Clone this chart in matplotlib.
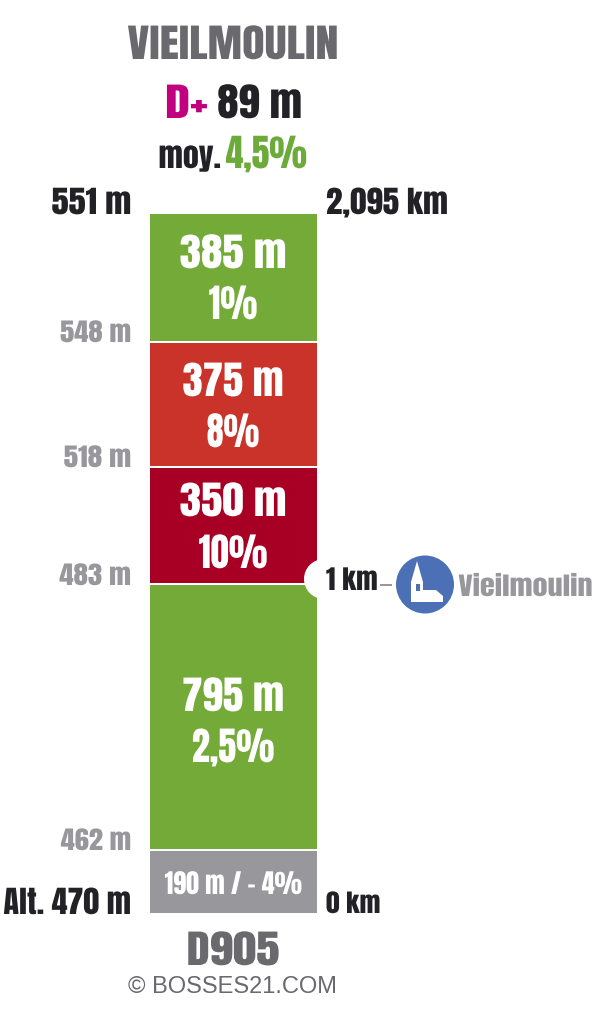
import matplotlib
matplotlib.use("Agg")
import matplotlib.pyplot as plt
import matplotlib.patheffects as pe
from matplotlib.patches import Circle, Polygon, Rectangle
from matplotlib.transforms import Affine2D

# Data, from the foot of the climb to the top
segment_lengths = [190, 795, 350, 375, 385]
segment_labels = ["190 m / - 4%", "795 m\n2,5%", "350 m\n10%", "375 m\n8%", "385 m\n1%"]
segment_colors = ["#98979c", "#74aa38", "#a80024", "#c93329", "#74aa38"]
altitude_labels = ["548 m", "518 m", "483 m", "462 m"]
total_km = "2,095 km"
start_km = "0 km"
top_alt = "551 m"
start_alt = "Alt. 470 m"
poi_km = "1 km"
poi_name = "Vieilmoulin"
title = "VIEILMOULIN"
road = "D905"
credit = "© BOSSES21.COM"

W, H = 600, 1024
DARK, GREY, MID = "#212126", "#98979c", "#69696e"
FONT = ["Anton", "Oswald", "Liberation Sans", "DejaVu Sans"]

fig = plt.figure(figsize=(W / 100, H / 100), dpi=100, facecolor="white")

# Stacked column in metres
bar_ax = fig.add_axes([149 / W, 1 - 913.5 / H, 169 / W, 700.5 / H])
bar_ax.set_xlim(0, 1)
bar_ax.set_ylim(0, sum(segment_lengths))
bar_ax.axis("off")
bottom = 0
for length, color in zip(segment_lengths, segment_colors):
    bar_ax.bar(0.5, length, width=1, bottom=bottom, color=color,
               edgecolor="white", linewidth=1.44, clip_on=False)
    bottom += length

# Pixel overlay for labels and the icon
ov = fig.add_axes([0, 0, 1, 1], facecolor="none")
ov.set_xlim(0, W)
ov.set_ylim(H, 0)
ov.axis("off")


class Widen(pe.AbstractPathEffect):
    """Widen glyphs about the anchor, since the reference face is broader than Anton."""

    def __init__(self, factor, anchor):
        super().__init__()
        self.factor = factor
        self.anchor = anchor

    def draw_path(self, renderer, gc, tpath, affine, rgbFace=None):
        stretch = Affine2D().translate(-self.anchor, 0).scale(self.factor, 1).translate(self.anchor, 0)
        renderer.draw_path(gc, tpath, affine + stretch, rgbFace)


def label(x, y, s, size, color, ha="center", font=FONT, factor=1.0):
    t = ov.text(x, y, s, fontsize=size, color=color, ha=ha, va="baseline",
                family=font, zorder=5)
    if factor != 1.0:
        t.set_path_effects([Widen(factor, x)])
    return t


label(233, 59, title, 28, MID, factor=1.19)
label(165, 118, "D+", 28, "#c0007f", ha="left", factor=1.3)
label(302, 118, "89 m", 28, DARK, ha="right", factor=1.1)
label(221, 168, "moy.", 22, DARK, ha="right", factor=1.05)
label(307, 168, "4,5%", 27, "#6cab3a", ha="right", factor=0.95)

label(131, 214, top_alt, 22, DARK, ha="right", factor=1.13)
label(326, 214, total_km, 22, DARK, ha="left", factor=1.08)
label(131, 914, start_alt, 22, DARK, ha="right", factor=1.05)
label(326, 913, start_km, 18, DARK, ha="left", factor=1.1)

for s, y, f in zip(altitude_labels, [342, 467, 585, 850], [1.15, 1.17, 1.16, 1.14]):
    label(131, y, s, 18, GREY, ha="right", factor=f)

two_line = [(segment_labels[4], 268, 319, 1.11, 0.9), (segment_labels[3], 396, 447, 1.05, 0.87),
            (segment_labels[2], 516, 568, 1.11, 0.94), (segment_labels[1], 711, 762, 1.06, 0.93)]
for s, y1, y2, f1, f2 in two_line:
    top, low = s.split("\n")
    label(233, y1, top, 28, "white", factor=f1)
    label(233, y2, low, 28, "white", factor=f2)
label(233, 894, segment_labels[0], 19, "white", factor=0.985)

# Notch and kilometre marker
ov.add_patch(Circle((324, 579), 20, fc="white", ec="none", zorder=2))
label(326, 590, poi_km, 19, DARK, ha="left", factor=1.08)
ov.add_patch(Rectangle((380, 583.5), 12, 2, fc=GREY, ec="none"))

# Church icon
ov.add_patch(Circle((425, 584.5), 29, fc="#4c70b5", ec="none"))
ov.add_patch(Polygon([(417, 561), (411, 582), (411, 602), (443, 602), (443, 596),
                      (436, 590), (423, 590), (423, 582)],
                     fc="white", ec="none", zorder=3))
ov.add_patch(Rectangle((416, 584), 3.5, 7, fc="#4c70b5", ec="none", zorder=4))
label(593, 596, poi_name, 18, GREY, ha="right", factor=1.21)

label(233, 965, road, 28, MID, factor=1.21)
label(233, 993, credit, 17, MID, font=["Liberation Sans", "DejaVu Sans"])

fig.savefig("out.png", dpi=100, facecolor="white")
